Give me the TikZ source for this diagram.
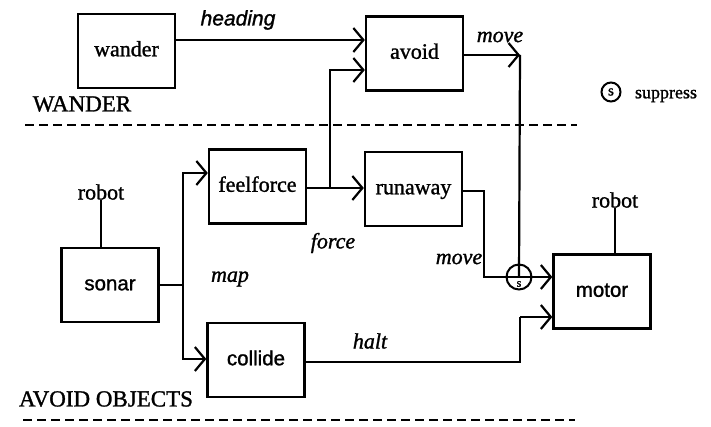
\documentclass[tikz,border=0pt]{standalone}
\usepackage{fontspec}
\setmainfont{Liberation Serif}[FakeBold=1.2]
\newfontfamily\sansf{Liberation Sans}[FakeBold=1.2]
\usetikzlibrary{arrows.meta}

\tikzset{
  blk/.style={draw, line width=2.4pt, minimum width=97pt, minimum height=74pt,
    inner sep=0pt, text height=2.6ex, text depth=0.3ex,
    font=\fontsize{22}{24}\selectfont},
  sblk/.style={blk, font=\sansf\fontsize{20.5}{24}\selectfont},
  wire/.style={line width=2.2pt},
  arr/.style={wire, -{Straight Barb[length=10pt, width=24pt, line width=2.2pt]}},
  lbl/.style={font=\fontsize{22}{24}\selectfont\itshape, inner sep=0pt},
  tag/.style={font=\fontsize{22}{24}\selectfont, inner sep=0pt},
  caps/.style={font=\fontsize{23}{26}\selectfont, inner sep=0pt},
  supp/.style={draw, circle, line width=2pt, inner sep=0pt},
  layer/.style={line width=1.8pt, dash pattern=on 9pt off 5pt},
}

\begin{document}
\begin{tikzpicture}[x=1pt, y=-1pt]
\useasboundingbox (0,0) rectangle (711,427);

% behaviour modules
\node[blk]  (wander)    at (126.5,51)   {wander};
\node[blk]  (avoid)     at (414.5,53.5) {avoid};
\node[blk]  (feelforce) at (257.5,186.5){feelforce};
\node[blk]  (runaway)   at (413.5,189)  {runaway};
\node[sblk] (sonar)     at (110,285)    {sonar};
\node[sblk] (collide)   at (256,360)    {collide};
\node[sblk] (motor)     at (602,291.5)  {motor};

% suppressor on the motor input
\node[supp, minimum size=25pt] (sup) at (519,277) {};
\node[inner sep=0pt, font=\fontsize{12}{12}\selectfont] (supS) at (519,284) {s};

% layer captions and legend
\node[caps] (wanderCap) at (82,104)  {WANDER};
\node[caps] (avoidCap)  at (106,399) {AVOID OBJECTS};
\node[supp, minimum size=19pt] (legC) at (611,92) {};
\node[inner sep=0pt, font=\fontsize{15}{15}\selectfont] (legS) at (611,92) {s};
\node[inner sep=0pt, font=\fontsize{18}{20}\selectfont] (legT) at (666,96) {suppress};

% robot inputs
\node[tag] (robotL) at (101,192) {robot};
\node[tag] (robotR) at (615,200) {robot};

% junction points
\coordinate (j1) at (330,188);
\coordinate (j2) at (183,285);
\coordinate (mv) at (520,55);
\coordinate (r1) at (484,277);
\coordinate (hk) at (520,317);

% layer separators
\coordinate (d1a) at (25,125);  \coordinate (d1b) at (577,125);
\coordinate (d2a) at (23,420);  \coordinate (d2b) at (575,420);
\draw[layer] (d1a) -- (d1b);
\draw[layer] (d2a) -- (d2b);

% connectors
\draw[arr] (wander.east |- 0,40) -- (avoid.west |- 0,40);
\draw[arr] (feelforce.east |- 0,188) -- (runaway.west |- 0,188);
\draw[arr] (j1) |- (avoid.west |- 0,70);
\draw[arr] (avoid.east |- mv) -- (mv);
\draw[wire] (mv) -- (sup.center);
\draw[wire] (sonar.east |- j2) -- (j2);
\draw[arr] (j2) |- (feelforce.west |- 0,173);
\draw[arr] (j2) |- (collide.west |- 0,359);
\draw[wire] (runaway.east |- 0,191) -| (r1) -- (sup.center);
\draw[arr] (sup.center) -- (motor.west |- sup);
\draw[wire] (collide.east |- 0,362) -| (hk);
\draw[arr] (hk) -- (motor.west |- hk);
\draw[wire] (robotL.south) -- (robotL.south |- sonar.north);
\draw[wire] (robotR.south) -- (robotR.south |- motor.north);

% signal labels
\node[lbl, font=\sansf\fontsize{21}{24}\selectfont\itshape] (heading) at (238,20) {heading};
\node[lbl] (move1) at (500,37)  {move};
\node[lbl] (force) at (333,243) {force};
\node[lbl] (map)   at (230,279) {map};
\node[lbl] (move2) at (459,259) {move};
\node[lbl] (halt)  at (370,341) {halt};
\end{tikzpicture}
\end{document}
